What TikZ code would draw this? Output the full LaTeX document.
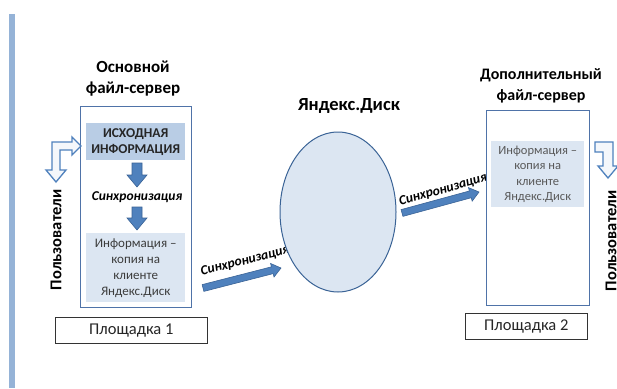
\documentclass[tikz,border=0pt]{standalone}
\usepackage{fontspec}
\setmainfont{Carlito}
\usetikzlibrary{calc,shapes.geometric}
\definecolor{boxline}{HTML}{4F73A8}
\definecolor{arrfill}{HTML}{4F81BD}
\definecolor{arrline}{HTML}{3A6396}
\definecolor{innerA}{HTML}{B9CDE5}
\definecolor{innerB}{HTML}{DCE6F2}
\definecolor{barblue}{HTML}{95B3D7}
\definecolor{txtgray}{HTML}{595959}
\definecolor{txtdark}{HTML}{262626}
\definecolor{outfill}{HTML}{F4F7FB}
\newcommand\fatarr[5]{%
  \filldraw[fatstyle] ($(#1)!#3!90:(#2)$) -- ($(#2)!#5!(#1)!#3!-90:(#1)$) --
  ($(#2)!#5!(#1)!#4!-90:(#1)$) -- (#2) -- ($(#2)!#5!(#1)!#4!90:(#1)$) --
  ($(#2)!#5!(#1)!#3!90:(#1)$) -- ($(#1)!#3!-90:(#2)$) -- cycle;}
\begin{document}
\begin{tikzpicture}[x=1pt,y=-1pt,
  fatstyle/.style={fill=arrfill,draw=arrline,line width=0.6pt,line join=miter},
  srvbox/.style={draw=boxline,line width=1pt,fill=white,anchor=north west,inner sep=0pt},
  innerbox/.style={anchor=north west,inner sep=0pt,align=center},
  sitebox/.style={draw=black!80,line width=0.6pt,fill=white,anchor=north west,inner sep=0pt,
     font=\fontsize{16.5}{19}\selectfont,text=txtdark},
  title/.style={font=\bfseries\fontsize{16}{21}\selectfont,align=center,text=black},
  users/.style={font=\bfseries\fontsize{16.5}{19}\selectfont,rotate=90,text=black},
  synclbl/.style={font=\bfseries\itshape\fontsize{13.5}{16}\selectfont,text=black},
  outarr/.style={draw=arrfill,fill=outfill,line width=1.3pt,line join=miter}]
\clip (0,0) rectangle (617,388);
\fill[white] (0,0) rectangle (617,388);
% left bar
\fill[barblue] (9,14) rectangle (15,388);
% titles
\node[title,font=\bfseries\fontsize{17}{21}\selectfont] (t1) at (133,79) {Основной\\файл-сервер};
\node[title] (t2) at (541,86) {Дополнительный\\файл-сервер};
\node[title,font=\bfseries\fontsize{18.5}{22}\selectfont] (t3) at (349,106) {Яндекс.Диск};
% sync labels (drawn under shapes)
\node[synclbl,rotate=14.2] (l1) at (245,261) {Синхронизация};
\node[synclbl,rotate=15.5] (l2) at (443,190) {Синхронизация};
% server boxes
\node[srvbox,minimum width=111pt,minimum height=201pt] (srv1) at (80,106) {};
\node[srvbox,minimum width=103pt,minimum height=195pt] (srv2) at (486,110) {};
% inner boxes
\node[innerbox,fill=innerA,minimum width=99pt,minimum height=37pt,
  font=\bfseries\fontsize{13.5}{16}\selectfont,text=txtdark] (src) at (86,123) {ИСХОДНАЯ\\ИНФОРМАЦИЯ};
\node[innerbox,fill=innerB,minimum width=99pt,minimum height=69pt,
  font=\fontsize{13}{16}\selectfont,text=txtdark!90] (cp1) at (86,233) {Информация –\\копия на\\клиенте\\Яндекс.Диск};
\node[innerbox,fill=innerB,minimum width=93pt,minimum height=66pt,
  font=\fontsize{12.5}{15.5}\selectfont,text=txtgray] (cp2) at (491,141) {Информация –\\копия на\\клиенте\\Яндекс.Диск};
\node[synclbl] (mid) at (137,197) {Синхронизация};
% ellipse
\node[ellipse,draw=arrline,line width=1pt,fill=innerB,minimum width=116pt,minimum height=160pt,inner sep=0pt] (disk) at (338,212) {};
% site boxes
\node[sitebox,minimum width=152pt,minimum height=26pt] (pl1) at (55,317) {Площадка 1};
\node[sitebox,minimum width=122pt,minimum height=26pt] (pl2) at (465,313) {Площадка 2};
% users
\node[users] (u1) at (56,240) {Пользователи};
\node[users] (u2) at (611,241) {Пользователи};
% fat arrows
\coordinate (d1s) at (137,163); \coordinate (d1e) at (137,187);
\coordinate (d2s) at (137,207); \coordinate (d2e) at (137,230);
\coordinate (s1s) at (203,288); \coordinate (s1e) at (281,268);
\coordinate (s2s) at (402,213); \coordinate (s2e) at (479,192);
\fatarr{d1s}{d1e}{5pt}{10pt}{12pt}
\fatarr{d2s}{d2e}{5pt}{10pt}{12pt}
\fatarr{s1s}{s1e}{3.5pt}{7pt}{9pt}
\fatarr{s2s}{s2e}{3.5pt}{7pt}{9pt}
% outline elbow arrows
\draw[outarr] (52,142) -- (72,142) -- (72,137) -- (81,146) -- (72,155) -- (72,150) -- (60,150)
  -- (60,170) -- (66,170) -- (56,182) -- (46,170) -- (52,170) -- cycle;
\draw[outarr] (595,142) -- (613,142) -- (613,166) -- (618,166) -- (608,178) -- (598,166)
  -- (603,166) -- (603,152) -- (595,152) -- cycle;
\end{tikzpicture}
\end{document}
